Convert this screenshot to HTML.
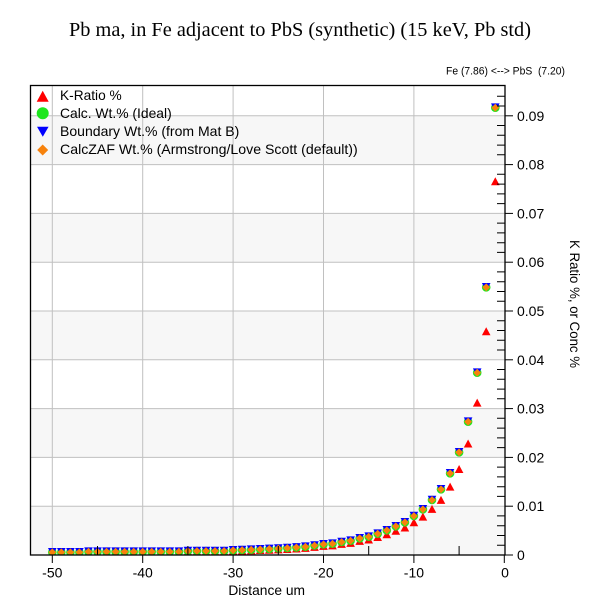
<!DOCTYPE html>
<html><head><meta charset="utf-8"><style>
html,body{margin:0;padding:0;background:#fff;}
svg{display:block;}
text{font-family:"Liberation Sans",Arial,sans-serif;fill:#000;}
</style></head><body>
<svg width="600" height="600" viewBox="0 0 600 600" xmlns="http://www.w3.org/2000/svg">
<defs>
<clipPath id="pc"><rect x="30" y="85" width="475" height="470"/></clipPath>
<path id="rt" d="M0,-4.2 L4.3,3.8 L-4.3,3.8 Z" fill="#ff0000"/>
<circle id="gc" r="4.3" fill="#1ee61e"/>
<path id="bt" d="M-4.3,-4.3 L4.3,-4.3 L0,3.8 Z" fill="#0000ff"/>
<path id="od" d="M0,-3.9 L3.9,0 L0,3.9 L-3.9,0 Z" fill="#f7820c"/>
</defs>
<rect width="600" height="600" fill="#fff"/>
<text x="300" y="36" font-size="19.5" text-anchor="middle" textLength="462" lengthAdjust="spacingAndGlyphs" style="font-family:'Liberation Serif','Times New Roman',serif">Pb ma, in Fe adjacent to PbS (synthetic) (15 keV, Pb std)</text>
<text x="446" y="74.5" font-size="11" textLength="119" lengthAdjust="spacingAndGlyphs">Fe (7.86) &lt;--&gt; PbS&#160; (7.20)</text>
<!-- bands -->
<g fill="#f7f7f7">
<rect x="30" y="506.2" width="475" height="48.8"/>
<rect x="30" y="408.6" width="475" height="48.8"/>
<rect x="30" y="311" width="475" height="48.8"/>
<rect x="30" y="213.4" width="475" height="48.8"/>
<rect x="30" y="115.8" width="475" height="48.8"/>
</g>
<!-- grid -->
<g stroke="#c0c0c0" stroke-width="1">
<line x1="52.3" y1="85" x2="52.3" y2="555"/>
<line x1="142.7" y1="85" x2="142.7" y2="555"/>
<line x1="233.1" y1="85" x2="233.1" y2="555"/>
<line x1="323.5" y1="85" x2="323.5" y2="555"/>
<line x1="413.9" y1="85" x2="413.9" y2="555"/>
<line x1="30" y1="506.2" x2="505" y2="506.2"/>
<line x1="30" y1="457.4" x2="505" y2="457.4"/>
<line x1="30" y1="408.6" x2="505" y2="408.6"/>
<line x1="30" y1="359.8" x2="505" y2="359.8"/>
<line x1="30" y1="311" x2="505" y2="311"/>
<line x1="30" y1="262.2" x2="505" y2="262.2"/>
<line x1="30" y1="213.4" x2="505" y2="213.4"/>
<line x1="30" y1="164.6" x2="505" y2="164.6"/>
<line x1="30" y1="115.8" x2="505" y2="115.8"/>
</g>
<!-- legend -->
<path d="M42.7,90.8 L48.7,101.8 L36.7,101.8 Z" fill="#ff0000"/>
<circle cx="42.7" cy="113.3" r="6" fill="#1ee61e"/>
<path d="M37,126.7 L48.6,126.7 L42.8,136.7 Z" fill="#0000ff"/>
<path d="M42.7,144.5 L48.2,150 L42.7,155.5 L37.2,150 Z" fill="#f7820c"/>
<text x="60" y="100" font-size="14" textLength="61.7" lengthAdjust="spacingAndGlyphs">K-Ratio %</text>
<text x="60" y="118" font-size="14" textLength="111.7" lengthAdjust="spacingAndGlyphs">Calc. Wt.% (Ideal)</text>
<text x="60" y="136" font-size="14" textLength="179.3" lengthAdjust="spacingAndGlyphs">Boundary Wt.% (from Mat B)</text>
<text x="60" y="154" font-size="14" textLength="297.7" lengthAdjust="spacingAndGlyphs">CalcZAF Wt.% (Armstrong/Love Scott (default))</text>
<!-- data -->
<g clip-path="url(#pc)">
<g>
<use href="#rt" x="495.3" y="181.5"/><use href="#rt" x="486.2" y="331.5"/><use href="#rt" x="477.2" y="402.8"/><use href="#rt" x="468.1" y="443.7"/><use href="#rt" x="459.1" y="469.2"/>
<use href="#rt" x="450.1" y="486.8"/><use href="#rt" x="441.0" y="500.1"/><use href="#rt" x="432.0" y="509.1"/><use href="#rt" x="422.9" y="516.8"/><use href="#rt" x="413.9" y="522.4"/>
<use href="#rt" x="404.9" y="527.7"/><use href="#rt" x="395.8" y="531"/><use href="#rt" x="386.8" y="534.4"/><use href="#rt" x="377.7" y="537.2"/><use href="#rt" x="368.7" y="539.7"/>
<use href="#rt" x="359.7" y="541.1"/><use href="#rt" x="350.6" y="543.1"/><use href="#rt" x="341.6" y="544.1"/><use href="#rt" x="332.5" y="545.6"/><use href="#rt" x="323.5" y="546.1"/>
<use href="#rt" x="314.5" y="547.1"/><use href="#rt" x="305.4" y="548.1"/><use href="#rt" x="296.4" y="548.7"/><use href="#rt" x="287.3" y="549.2"/><use href="#rt" x="278.3" y="549.6"/>
<use href="#rt" x="269.3" y="549.9"/><use href="#rt" x="260.2" y="550.2"/><use href="#rt" x="251.2" y="550.6"/><use href="#rt" x="242.1" y="550.8"/><use href="#rt" x="233.1" y="551.1"/>
<use href="#rt" x="224.1" y="551.7"/><use href="#rt" x="215.0" y="551.7"/><use href="#rt" x="206.0" y="551.7"/><use href="#rt" x="196.9" y="551.7"/><use href="#rt" x="187.9" y="551.7"/>
<use href="#rt" x="178.9" y="552.2"/><use href="#rt" x="169.8" y="552.2"/><use href="#rt" x="160.8" y="552.2"/><use href="#rt" x="151.7" y="552.2"/><use href="#rt" x="142.7" y="552.2"/>
<use href="#rt" x="133.7" y="552.2"/><use href="#rt" x="124.6" y="552.2"/><use href="#rt" x="115.6" y="552.2"/><use href="#rt" x="106.5" y="552.2"/><use href="#rt" x="97.5" y="552.2"/>
<use href="#rt" x="88.5" y="552.2"/><use href="#rt" x="79.4" y="552.7"/><use href="#rt" x="70.4" y="552.7"/><use href="#rt" x="61.3" y="552.7"/><use href="#rt" x="52.3" y="552.7"/>
</g>
</g>
<g clip-path="url(#pc)">
<!-- green circles -->
<g>
<use href="#gc" x="495.3" y="107.7"/><use href="#gc" x="486.2" y="287.3"/><use href="#gc" x="477.2" y="372.7"/><use href="#gc" x="468.1" y="421.7"/><use href="#gc" x="459.1" y="452.3"/>
<use href="#gc" x="450.1" y="473.3"/><use href="#gc" x="441.0" y="489.3"/><use href="#gc" x="432.0" y="500"/><use href="#gc" x="422.9" y="509.3"/><use href="#gc" x="413.9" y="516"/>
<use href="#gc" x="404.9" y="522.3"/><use href="#gc" x="395.8" y="526.3"/><use href="#gc" x="386.8" y="530.3"/><use href="#gc" x="377.7" y="533.7"/><use href="#gc" x="368.7" y="536.7"/>
<use href="#gc" x="359.7" y="538.3"/><use href="#gc" x="350.6" y="540.7"/><use href="#gc" x="341.6" y="542"/><use href="#gc" x="332.5" y="543.7"/><use href="#gc" x="323.5" y="544.3"/>
<use href="#gc" x="314.5" y="545.5"/><use href="#gc" x="305.4" y="546.7"/><use href="#gc" x="296.4" y="547.4"/><use href="#gc" x="287.3" y="548"/><use href="#gc" x="278.3" y="548.5"/>
<use href="#gc" x="269.3" y="548.9"/><use href="#gc" x="260.2" y="549.3"/><use href="#gc" x="251.2" y="549.7"/><use href="#gc" x="242.1" y="550"/><use href="#gc" x="233.1" y="550.3"/>
<use href="#gc" x="224.1" y="551"/><use href="#gc" x="215.0" y="551"/><use href="#gc" x="206.0" y="551"/><use href="#gc" x="196.9" y="551"/><use href="#gc" x="187.9" y="551"/>
<use href="#gc" x="178.9" y="551.7"/><use href="#gc" x="169.8" y="551.7"/><use href="#gc" x="160.8" y="551.7"/><use href="#gc" x="151.7" y="551.7"/><use href="#gc" x="142.7" y="551.7"/>
<use href="#gc" x="133.7" y="551.7"/><use href="#gc" x="124.6" y="551.7"/><use href="#gc" x="115.6" y="551.7"/><use href="#gc" x="106.5" y="551.7"/><use href="#gc" x="97.5" y="551.7"/>
<use href="#gc" x="88.5" y="551.7"/><use href="#gc" x="79.4" y="552.3"/><use href="#gc" x="70.4" y="552.3"/><use href="#gc" x="61.3" y="552.3"/><use href="#gc" x="52.3" y="552.3"/>
</g>
<!-- blue triangles -->
<g>
<use href="#bt" x="495.3" y="107.7"/><use href="#bt" x="486.2" y="287.3"/><use href="#bt" x="477.2" y="372.7"/><use href="#bt" x="468.1" y="421.7"/><use href="#bt" x="459.1" y="452.3"/>
<use href="#bt" x="450.1" y="473.3"/><use href="#bt" x="441.0" y="489.3"/><use href="#bt" x="432.0" y="500"/><use href="#bt" x="422.9" y="509.3"/><use href="#bt" x="413.9" y="516"/>
<use href="#bt" x="404.9" y="522.3"/><use href="#bt" x="395.8" y="526.3"/><use href="#bt" x="386.8" y="530.3"/><use href="#bt" x="377.7" y="533.7"/><use href="#bt" x="368.7" y="536.7"/>
<use href="#bt" x="359.7" y="538.3"/><use href="#bt" x="350.6" y="540.7"/><use href="#bt" x="341.6" y="542"/><use href="#bt" x="332.5" y="543.7"/><use href="#bt" x="323.5" y="544.3"/>
<use href="#bt" x="314.5" y="545.5"/><use href="#bt" x="305.4" y="546.7"/><use href="#bt" x="296.4" y="547.4"/><use href="#bt" x="287.3" y="548"/><use href="#bt" x="278.3" y="548.5"/>
<use href="#bt" x="269.3" y="548.9"/><use href="#bt" x="260.2" y="549.3"/><use href="#bt" x="251.2" y="549.7"/><use href="#bt" x="242.1" y="550"/><use href="#bt" x="233.1" y="550.3"/>
<use href="#bt" x="224.1" y="551"/><use href="#bt" x="215.0" y="551"/><use href="#bt" x="206.0" y="551"/><use href="#bt" x="196.9" y="551"/><use href="#bt" x="187.9" y="551"/>
<use href="#bt" x="178.9" y="551.7"/><use href="#bt" x="169.8" y="551.7"/><use href="#bt" x="160.8" y="551.7"/><use href="#bt" x="151.7" y="551.7"/><use href="#bt" x="142.7" y="551.7"/>
<use href="#bt" x="133.7" y="551.7"/><use href="#bt" x="124.6" y="551.7"/><use href="#bt" x="115.6" y="551.7"/><use href="#bt" x="106.5" y="551.7"/><use href="#bt" x="97.5" y="551.7"/>
<use href="#bt" x="88.5" y="551.7"/><use href="#bt" x="79.4" y="552.3"/><use href="#bt" x="70.4" y="552.3"/><use href="#bt" x="61.3" y="552.3"/><use href="#bt" x="52.3" y="552.3"/>
</g>
<!-- orange diamonds -->
<g>
<use href="#od" x="495.3" y="107.7"/><use href="#od" x="486.2" y="287.3"/><use href="#od" x="477.2" y="372.7"/><use href="#od" x="468.1" y="421.7"/><use href="#od" x="459.1" y="452.3"/>
<use href="#od" x="450.1" y="473.3"/><use href="#od" x="441.0" y="489.3"/><use href="#od" x="432.0" y="500"/><use href="#od" x="422.9" y="509.3"/><use href="#od" x="413.9" y="516"/>
<use href="#od" x="404.9" y="522.3"/><use href="#od" x="395.8" y="526.3"/><use href="#od" x="386.8" y="530.3"/><use href="#od" x="377.7" y="533.7"/><use href="#od" x="368.7" y="536.7"/>
<use href="#od" x="359.7" y="538.3"/><use href="#od" x="350.6" y="540.7"/><use href="#od" x="341.6" y="542"/><use href="#od" x="332.5" y="543.7"/><use href="#od" x="323.5" y="544.3"/>
<use href="#od" x="314.5" y="545.5"/><use href="#od" x="305.4" y="546.7"/><use href="#od" x="296.4" y="547.4"/><use href="#od" x="287.3" y="548"/><use href="#od" x="278.3" y="548.5"/>
<use href="#od" x="269.3" y="548.9"/><use href="#od" x="260.2" y="549.3"/><use href="#od" x="251.2" y="549.7"/><use href="#od" x="242.1" y="550"/><use href="#od" x="233.1" y="550.3"/>
<use href="#od" x="224.1" y="551"/><use href="#od" x="215.0" y="551"/><use href="#od" x="206.0" y="551"/><use href="#od" x="196.9" y="551"/><use href="#od" x="187.9" y="551"/>
<use href="#od" x="178.9" y="551.7"/><use href="#od" x="169.8" y="551.7"/><use href="#od" x="160.8" y="551.7"/><use href="#od" x="151.7" y="551.7"/><use href="#od" x="142.7" y="551.7"/>
<use href="#od" x="133.7" y="551.7"/><use href="#od" x="124.6" y="551.7"/><use href="#od" x="115.6" y="551.7"/><use href="#od" x="106.5" y="551.7"/><use href="#od" x="97.5" y="551.7"/>
<use href="#od" x="88.5" y="551.7"/><use href="#od" x="79.4" y="552.3"/><use href="#od" x="70.4" y="552.3"/><use href="#od" x="61.3" y="552.3"/><use href="#od" x="52.3" y="552.3"/>
</g>
</g>
<!-- frame -->
<rect x="30.5" y="85.5" width="474.5" height="469.5" fill="none" stroke="#000" stroke-width="1.3"/>
<!-- right axis ticks -->
<g stroke="#000" stroke-width="1">
<line x1="505" y1="555" x2="513" y2="555"/>
<line x1="505" y1="506.2" x2="513" y2="506.2"/>
<line x1="505" y1="457.4" x2="513" y2="457.4"/>
<line x1="505" y1="408.6" x2="513" y2="408.6"/>
<line x1="505" y1="359.8" x2="513" y2="359.8"/>
<line x1="505" y1="311" x2="513" y2="311"/>
<line x1="505" y1="262.2" x2="513" y2="262.2"/>
<line x1="505" y1="213.4" x2="513" y2="213.4"/>
<line x1="505" y1="164.6" x2="513" y2="164.6"/>
<line x1="505" y1="115.8" x2="513" y2="115.8"/>
<path d="M497,545.2H505M497,535.5H505M497,525.7H505M497,515.9H505
M497,496.4H505M497,486.7H505M497,476.9H505M497,467.1H505
M497,447.6H505M497,437.9H505M497,428.1H505M497,418.3H505
M497,398.8H505M497,389.1H505M497,379.3H505M497,369.5H505
M497,350H505M497,340.3H505M497,330.5H505M497,320.7H505
M497,301.2H505M497,291.5H505M497,281.7H505M497,271.9H505
M497,252.4H505M497,242.7H505M497,232.9H505M497,223.1H505
M497,203.6H505M497,193.9H505M497,184.1H505M497,174.3H505
M497,154.8H505M497,145.1H505M497,135.3H505M497,125.5H505
M497,106H505M497,96.3H505"/>
<!-- bottom ticks -->
<path d="M52.3,555V563M142.7,555V563M233.1,555V563M323.5,555V563M413.9,555V563M504.3,555V563
M97.5,555V546M187.9,555V546M278.3,555V546M368.7,555V546M459.1,555V546"/>
</g>
<!-- right labels -->
<g font-size="14">
<text x="517" y="560">0</text>
<text x="517" y="511.2">0.01</text>
<text x="517" y="462.4">0.02</text>
<text x="517" y="413.6">0.03</text>
<text x="517" y="364.8">0.04</text>
<text x="517" y="316">0.05</text>
<text x="517" y="267.2">0.06</text>
<text x="517" y="218.4">0.07</text>
<text x="517" y="169.6">0.08</text>
<text x="517" y="120.8">0.09</text>
</g>
<!-- bottom labels -->
<g font-size="14" text-anchor="middle">
<text x="52.3" y="577.5">-50</text>
<text x="142.7" y="577.5">-40</text>
<text x="233.1" y="577.5">-30</text>
<text x="323.5" y="577.5">-20</text>
<text x="413.9" y="577.5">-10</text>
<text x="505" y="577.5">0</text>
<text x="266.7" y="595" textLength="76.7" lengthAdjust="spacingAndGlyphs">Distance um</text>
</g>
<text transform="translate(570,304) rotate(90)" font-size="13.5" text-anchor="middle" textLength="128" lengthAdjust="spacingAndGlyphs">K Ratio %, or Conc %</text>
</svg>
</body></html>
